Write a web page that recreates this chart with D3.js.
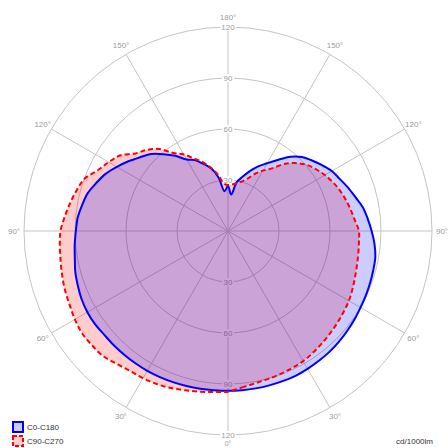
<!DOCTYPE html>
<html>
<head>
<meta charset="utf-8">
<script src="https://cdn.jsdelivr.net/npm/d3@7"></script>
<style>
  body { margin: 0; background: #fff; }
  text { font-family: "Liberation Sans", Arial, sans-serif; }
</style>
</head>
<body>
<svg id="chart" width="448" height="448"></svg>
<script>
// angulos gamma (0 = abajo, 180 = arriba), cada 5 grados
const gammas = d3.range(0, 181, 5);

// C0-C180 (azul): C0 a la derecha, C180 a la izquierda
const c0 = [94, 94, 94, 94, 94, 94, 93.6, 93.2, 92.8, 92.2, 91.5, 90.8, 90, 89.5, 89, 88.5, 88, 86.5, 84.5,
  82.5, 80.5, 77.5, 75, 72.5, 70.5, 67.5, 64.5, 61.5, 57, 51, 46, 42, 37.5, 33, 29, 21.5, 26.5];
const c180 = [94, 94, 94.2, 94.4, 94.6, 94.8, 95, 95, 95, 95, 95, 95.5, 95.5, 95, 94, 93, 91.5, 90.5, 89.5,
  88.8, 87.2, 85.5, 82.5, 79.5, 75.5, 71.5, 67.5, 64, 59, 54, 48.5, 46, 42, 38, 32, 23.5, 26.5];

// C90-C270 (rojo): C90 a la izquierda, C270 a la derecha
const c90 = [94.5, 95, 96, 97, 98.3, 99.3, 100, 100.5, 102, 104, 104.5, 104.8, 104, 102.8, 102, 101, 100, 99.3, 98.5,
  96.4, 94.3, 92.2, 89.8, 84.5, 81, 77.5, 71, 67.5, 63, 56, 52, 47, 43, 38.5, 33.5, 28, 26];
const c270 = [94.5, 92.5, 91, 90.2, 89.6, 89, 88.4, 87.3, 86.1, 85, 84, 83, 82.1, 80.8, 79.5, 78.5, 77.8, 77.3, 77,
  74.8, 73.2, 71.6, 70, 68, 65.8, 63.3, 60.5, 56.5, 51.5, 45, 41, 37, 32.5, 30, 28.5, 27.5, 27];

const ringValues = [30, 60, 90, 120];
const spokeAngles = d3.range(0, 360, 30);
const angleLabels = [0, 30, 60, 90, 120, 150, 180, 150, 120, 90, 60, 30];
const seriesNames = ["C0-C180", "C90-C270"];
const unitLabel = "cd/1000lm";

const svg = d3.select("#chart");
const cx = 228, cy = 231;
const r = d3.scaleLinear().domain([0, 120]).range([0, 204]);

const g = svg.append("g").attr("transform", `translate(${cx},${cy})`);

// angulo d3 (0 arriba, horario) a partir de gamma y lado
const toRad = d => d * Math.PI / 180;
const halfLoop = (right, left) => {
  const pts = [];
  gammas.forEach((gm, i) => pts.push({ a: toRad(180 - gm), v: right[i] }));
  for (let i = gammas.length - 2; i > 0; i--) pts.push({ a: toRad(180 + gammas[i]), v: left[i] });
  return pts;
};

// rejilla
g.selectAll(".ring").data(ringValues).join("circle")
  .attr("r", d => r(d)).attr("fill", "none").attr("stroke", "#c4c4c4").attr("stroke-width", 1);

g.selectAll(".spoke").data(spokeAngles).join("line")
  .attr("x1", 0).attr("y1", 0)
  .attr("x2", d => r(120) * Math.sin(toRad(d)))
  .attr("y2", d => -r(120) * Math.cos(toRad(d)))
  .attr("stroke", "#c4c4c4").attr("stroke-width", 1);

// etiquetas de los anillos (arriba y abajo)
const ringLab = g.selectAll(".rl").data(ringValues.flatMap(v => [{ v, s: -1 }, { v, s: 1 }])).join("g")
  .attr("transform", d => `translate(0,${d.s * r(d.v)})`);
ringLab.append("rect").attr("x", d => d.v >= 100 ? -8 : -6).attr("y", -4)
  .attr("width", d => d.v >= 100 ? 16 : 12).attr("height", 8).attr("fill", "#fff");
ringLab.append("text").text(d => d.v)
  .attr("text-anchor", "middle").attr("dy", "0.35em")
  .attr("font-size", 8).attr("fill", "#a09c98");

// etiquetas de angulos (el 0° mas chico y apretado abajo para que entre)
g.selectAll(".al").data(spokeAngles).join("text")
  .text((d, i) => angleLabels[i] + "°")
  .attr("x", d => (r(120) + 10) * Math.sin(toRad(d + 180)))
  .attr("y", d => d === 0 ? 444 - cy : -(r(120) + 10) * Math.cos(toRad(d + 180)))
  .attr("text-anchor", "middle").attr("dy", "0.35em")
  .attr("font-size", d => d === 0 ? 7 : 8).attr("fill", "#a09c98");

// curvas
const radial = d3.lineRadial().angle(d => d.a).radius(d => r(d.v)).curve(d3.curveCatmullRomClosed);
const redPts = halfLoop(c270, c90);
const bluePts = halfLoop(c0, c180);

g.append("path").attr("d", radial(redPts)).attr("fill", "rgba(255,0,0,0.2)").attr("stroke", "none");
g.append("path").attr("d", radial(bluePts)).attr("fill", "rgba(0,0,255,0.2)").attr("stroke", "none");
g.append("path").attr("d", radial(bluePts)).attr("fill", "none").attr("stroke", "#0000ff").attr("stroke-width", 2);
g.append("path").attr("d", radial(redPts)).attr("fill", "none").attr("stroke", "#ff0000")
  .attr("stroke-width", 2).attr("stroke-dasharray", "5,3");

// leyenda
const legend = svg.append("g");
const lg = legend.selectAll("g").data(seriesNames).join("g")
  .attr("transform", (d, i) => `translate(13,${422 + i * 14})`);
lg.append("rect").attr("width", 10).attr("height", 10)
  .attr("fill", (d, i) => i === 0 ? "#ccccff" : "#ffcccc")
  .attr("stroke", (d, i) => i === 0 ? "#0000ff" : "#ff0000")
  .attr("stroke-width", 2)
  .attr("stroke-dasharray", (d, i) => i === 0 ? null : "4,2");
lg.append("text").text(d => d).attr("x", 14).attr("y", 5).attr("dy", "0.35em")
  .attr("font-size", 8).attr("fill", "#333");

svg.append("text").text(unitLabel).attr("x", 433).attr("y", 444)
  .attr("text-anchor", "end").attr("font-size", 8).attr("fill", "#333");
</script>
</body>
</html>
